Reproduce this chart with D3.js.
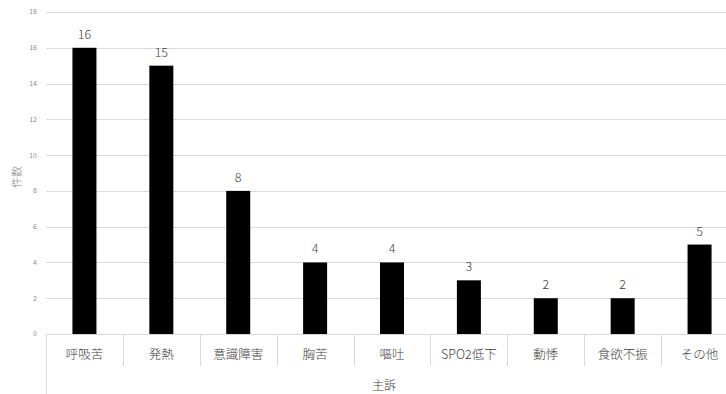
<!DOCTYPE html>
<html><head><meta charset="utf-8">
<script src="https://cdn.jsdelivr.net/npm/d3@7"></script>
<style>body{margin:0;background:#fff;overflow:hidden}svg{display:block}</style>
</head><body>
<script>
const categories = ["呼吸苦","発熱","意識障害","胸苦","嘔吐","SPO2低下","動悸","食欲不振","その他"];
const values = [16,15,8,4,4,3,2,2,5];
const yTicks = [0,2,4,6,8,10,12,14,16,18];
const yTitle = "件数";
const xTitle = "主訴";

(function(){
const W = 726, H = 394;
const font = "'Noto Sans CJK JP','Noto Sans',sans-serif";
const svg = d3.select("body").append("svg").attr("width", W).attr("height", H);
const pLeft = 46, pRight = 738, pTop = 12, pBottom = 334;
const x = d3.scaleBand().domain(categories).range([pLeft, pRight]).paddingInner(0).paddingOuter(0);
const y = d3.scaleLinear().domain([0, 18]).range([pBottom, pTop]);

// gridlines
svg.append("g").selectAll("line").data(yTicks).join("line")
  .attr("x1", pLeft).attr("x2", pRight)
  .attr("y1", d => Math.round(y(d)) + 0.5).attr("y2", d => Math.round(y(d)) + 0.5)
  .attr("stroke", "#d9d9d9").attr("stroke-width", 1);

// y tick labels
svg.append("g").selectAll("text").data(yTicks).join("text")
  .attr("x", 37).attr("y", d => y(d)).attr("dy", "0.35em")
  .attr("text-anchor", "end").attr("font-family", font).attr("font-size", 7)
  .attr("fill", "#8c8c8c").text(d => d);

// y title
svg.append("text").attr("transform", `translate(17,${(pTop+pBottom)/2 + 4}) rotate(-90)`)
  .attr("text-anchor", "middle").attr("dy", "0.35em").attr("font-family", font).attr("font-size", 11)
  .attr("font-weight", 300).attr("fill", "#7f7f7f").text(yTitle);

// bars
const bw = 24;
svg.append("g").selectAll("rect").data(values).join("rect")
  .attr("x", (d, i) => x(categories[i]) + x.bandwidth()/2 - bw/2)
  .attr("y", d => y(d)).attr("width", bw).attr("height", d => pBottom - y(d))
  .attr("fill", "#000");

// value labels
svg.append("g").selectAll("text").data(values).join("text")
  .attr("x", (d, i) => x(categories[i]) + x.bandwidth()/2)
  .attr("y", d => y(d) - 9).attr("text-anchor", "middle")
  .attr("font-family", font).attr("font-size", 12.5).attr("font-weight", 300)
  .attr("fill", "#404040").text(d => d);

// x axis line
svg.append("line").attr("x1", pLeft).attr("x2", pRight).attr("y1", pBottom + 0.5).attr("y2", pBottom + 0.5)
  .attr("stroke", "#d9d9d9");
// category separators
svg.append("g").selectAll("line").data(categories).join("line")
  .attr("x1", d => Math.round(x(d)) + 0.5).attr("x2", d => Math.round(x(d)) + 0.5)
  .attr("y1", pBottom).attr("y2", (d, i) => i === 0 ? 394 : 366)
  .attr("stroke", "#d9d9d9");

// category labels
svg.append("g").selectAll("text").data(categories).join("text")
  .attr("x", d => x(d) + x.bandwidth()/2).attr("y", 355).attr("dy", "0.35em")
  .attr("text-anchor", "middle").attr("font-family", font).attr("font-size", 12.5)
  .attr("font-weight", 300).attr("fill", "#404040").text(d => d);

// x title
svg.append("text").attr("x", (pLeft + pRight)/2 - 8).attr("y", 386).attr("dy", "0.35em")
  .attr("text-anchor", "middle").attr("font-family", font).attr("font-size", 12)
  .attr("font-weight", 300).attr("fill", "#404040").text(xTitle);
})();
</script>
</body></html>
